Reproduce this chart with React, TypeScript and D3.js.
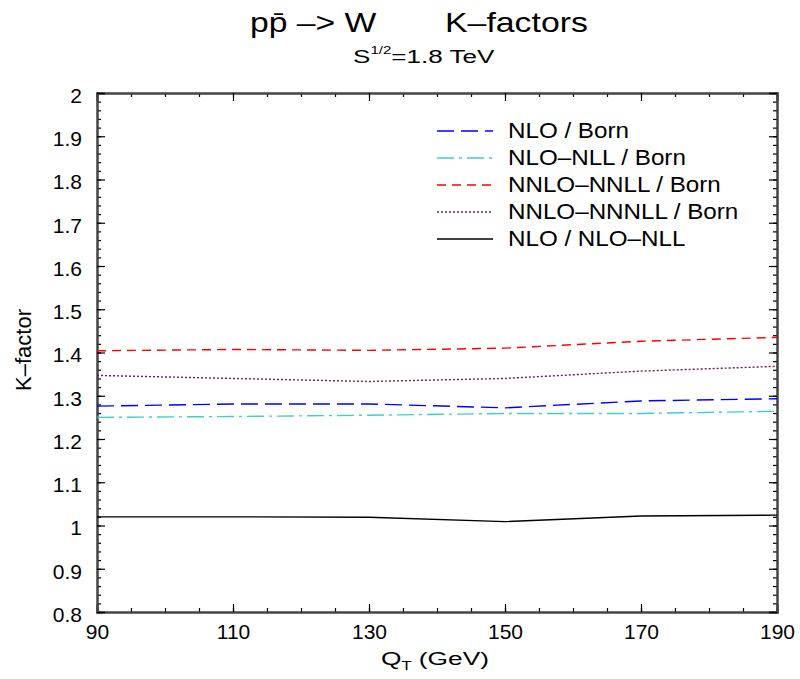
import React, { useRef, useEffect } from 'react';
import * as d3 from 'd3';

const qt = [90, 110, 130, 150, 170, 190];

const nloBorn = [1.276, 1.281, 1.281, 1.272, 1.288, 1.293];
const nloNllBorn = [1.250, 1.252, 1.255, 1.259, 1.259, 1.264];
const nnloNnllBorn = [1.404, 1.407, 1.405, 1.410, 1.426, 1.435];
const nnloNnnllBorn = [1.347, 1.340, 1.333, 1.340, 1.357, 1.368];
const nloNloNll = [1.020, 1.020, 1.019, 1.009, 1.022, 1.024];

const seriesNames = ['NLO / Born', 'NLO\u2013NLL / Born', 'NNLO\u2013NNLL / Born', 'NNLO\u2013NNNLL / Born', 'NLO / NLO\u2013NLL'];
const seriesValues = [nloBorn, nloNllBorn, nnloNnllBorn, nnloNnnllBorn, nloNloNll];
const seriesColors = ['#0000ff', '#3fcfc6', '#ff0000', '#6e1d5c', '#000000'];
const seriesDashes = ['17,7', '17,5,3,5', '9,6', '2,2', ''];

const xTicks = [90, 110, 130, 150, 170, 190];
const yTicks = [0.8, 0.9, 1, 1.1, 1.2, 1.3, 1.4, 1.5, 1.6, 1.7, 1.8, 1.9, 2];

const FONT = '"Liberation Sans", Arial, Helvetica, sans-serif';

type TextSel = d3.Selection<SVGTextElement, unknown, null, undefined>;

// the original fonts are wider than Arial, so stretch a text horizontally to a given width
const stretchTo = (t: TextSel, left: number, targetWidth: number) => {
  const w = (t.node() as SVGTextElement).getBBox().width;
  if (!w) return;
  const k = targetWidth / w;
  t.attr('transform', `translate(${left},0) scale(${k},1) translate(${-left},0)`);
};

const App: React.FC = () => {
  const ref = useRef<SVGSVGElement | null>(null);

  useEffect(() => {
    if (!ref.current) return;
    const svg = d3.select(ref.current);
    svg.selectAll('*').remove();

    const width = 800;
    const height = 679;
    const margin = { top: 93, right: 23, bottom: 67, left: 97 };

    const x = d3.scaleLinear().domain([90, 190]).range([margin.left, width - margin.right]);
    const y = d3.scaleLinear().domain([0.8, 2]).range([height - margin.bottom, margin.top]);

    const minorX = d3.range(90, 190.001, 5);
    const minorY = d3.range(0.8, 2.0001, 0.02);

    const styleAxis = (g: d3.Selection<SVGGElement, unknown, null, undefined>) => {
      g.select('.domain').attr('stroke', '#444').attr('stroke-width', 2);
      g.selectAll('.tick line').attr('stroke', '#000').attr('stroke-width', 1.2);
      g.selectAll('text').attr('font-family', FONT).attr('font-size', 21).attr('fill', '#000');
    };

    // minor ticks on all four sides
    const minor = svg.append('g');
    minor.append('g').attr('transform', `translate(0,${y(0.8)})`)
      .call(d3.axisBottom(x).tickValues(minorX).tickSize(-4).tickFormat(() => ''))
      .call(styleAxis);
    minor.append('g').attr('transform', `translate(0,${y(2)})`)
      .call(d3.axisTop(x).tickValues(minorX).tickSize(-4).tickFormat(() => ''))
      .call(styleAxis);
    minor.append('g').attr('transform', `translate(${x(90)},0)`)
      .call(d3.axisLeft(y).tickValues(minorY).tickSize(-4).tickFormat(() => ''))
      .call(styleAxis);
    minor.append('g').attr('transform', `translate(${x(190)},0)`)
      .call(d3.axisRight(y).tickValues(minorY).tickSize(-4).tickFormat(() => ''))
      .call(styleAxis);

    // major ticks + labels
    svg.append('g').attr('transform', `translate(0,${y(0.8)})`)
      .call(d3.axisBottom(x).tickValues(xTicks).tickSize(-8).tickPadding(12).tickFormat(d3.format('d')))
      .call(styleAxis);
    svg.append('g').attr('transform', `translate(0,${y(2)})`)
      .call(d3.axisTop(x).tickValues(xTicks).tickSize(-8).tickFormat(() => ''))
      .call(styleAxis);
    const yAxis = svg.append('g').attr('transform', `translate(${x(90)},0)`)
      .call(d3.axisLeft(y).tickValues(yTicks).tickSize(-8).tickPadding(15).tickFormat(d => d3.format('~g')(d as number)))
      .call(styleAxis);
    yAxis.selectAll('text').attr('dy', '0.45em');
    svg.append('g').attr('transform', `translate(${x(190)},0)`)
      .call(d3.axisRight(y).tickValues(yTicks).tickSize(-8).tickFormat(() => ''))
      .call(styleAxis);

    // curves
    const line = d3.line<number>()
      .x((_, i) => x(qt[i]))
      .y(d => y(d));

    seriesValues.forEach((vals, i) => {
      svg.append('path')
        .datum(vals)
        .attr('fill', 'none')
        .attr('stroke', seriesColors[i])
        .attr('stroke-width', 1.4)
        .attr('stroke-dasharray', seriesDashes[i] || null)
        .attr('d', line);
    });

    // legend
    const legend = svg.append('g').attr('transform', 'translate(437,131)');
    seriesNames.forEach((name, i) => {
      const row = legend.append('g').attr('transform', `translate(0,${i * 27})`);
      row.append('line')
        .attr('x1', 0).attr('x2', 56).attr('y1', 0).attr('y2', 0)
        .attr('stroke', seriesColors[i])
        .attr('stroke-width', 1.4)
        .attr('stroke-dasharray', seriesDashes[i] || null);
      const t = row.append('text')
        .attr('x', 71).attr('y', 7)
        .attr('font-family', FONT).attr('font-size', 22)
        .text(name);
      const w = (t.node() as SVGTextElement).getBBox().width;
      stretchTo(t, 71, w * 1.1);
    });

    // titles
    const title1 = svg.append('text')
      .attr('x', 250).attr('y', 32)
      .attr('font-family', FONT).attr('font-size', 27)
      .text('pp\u0304 \u2013> W');
    stretchTo(title1, 250, 127);
    const title2 = svg.append('text')
      .attr('x', 445).attr('y', 32)
      .attr('font-family', FONT).attr('font-size', 27)
      .text('K\u2013factors');
    stretchTo(title2, 445, 143);

    const sub = svg.append('text')
      .attr('x', 353).attr('y', 63)
      .attr('font-family', FONT).attr('font-size', 19);
    sub.append('tspan').text('S');
    sub.append('tspan').attr('font-size', 11).attr('dy', -9).text('1/2');
    sub.append('tspan').attr('dy', 9).text('=1.8 TeV');
    stretchTo(sub, 353, 142);

    const xl = svg.append('text')
      .attr('x', 381).attr('y', 665)
      .attr('font-family', FONT).attr('font-size', 19);
    xl.append('tspan').text('Q');
    xl.append('tspan').attr('font-size', 12).attr('dy', 5).text('T');
    xl.append('tspan').attr('dy', -5).text(' (GeV)');
    stretchTo(xl, 381, 108);

    svg.append('text')
      .attr('transform', `translate(31,350) rotate(-90)`)
      .attr('text-anchor', 'middle')
      .attr('font-family', FONT).attr('font-size', 22)
      .text('K\u2013factor');
  }, []);

  return (
    <svg
      ref={ref}
      width={800}
      height={679}
      style={{ position: 'absolute', left: 0, top: 0, background: '#fff' }}
    />
  );
};

export default App;
